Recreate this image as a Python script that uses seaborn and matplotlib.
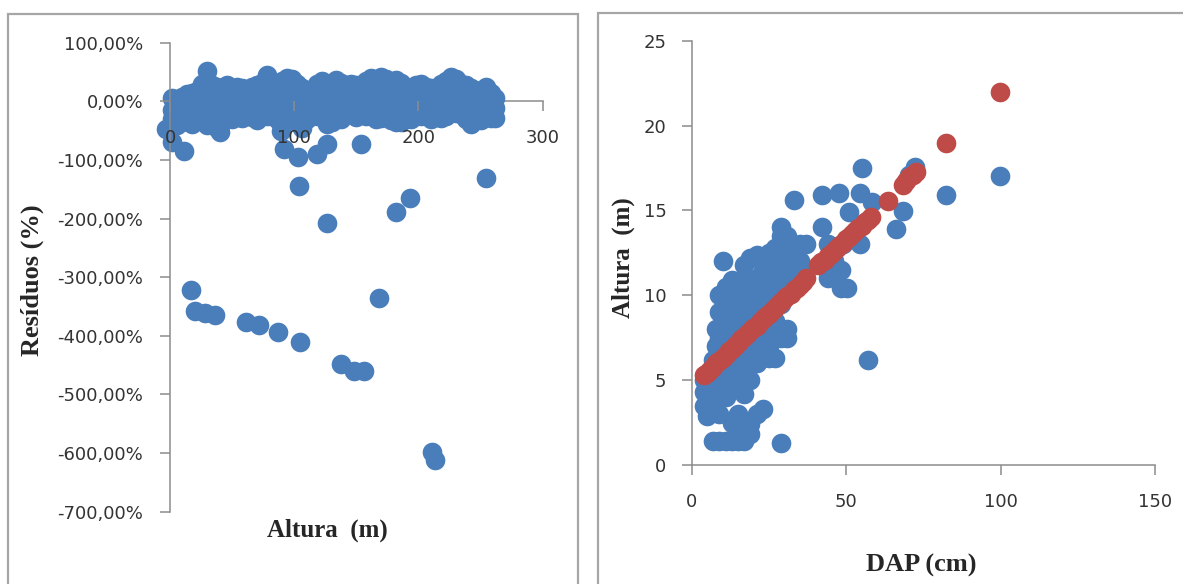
import matplotlib
matplotlib.use("Agg")
import numpy as np
import matplotlib.pyplot as plt
import seaborn as sns
from matplotlib.patches import Rectangle
from matplotlib.ticker import FuncFormatter, MultipleLocator

# ---- left panel: residuals (%) vs Altura (m) ----
band_x = [2, 6, 10, 14, 18, 22, 26, 30, 34, 38, 42, 46, 50, 54, 58, 62, 66, 70, 74, 78, 82, 86,
          90, 94, 98, 102, 106, 110, 114, 118, 122, 126, 130, 134, 138, 142, 146, 150, 154, 158,
          162, 166, 170, 174, 178, 182, 186, 190, 194, 198, 202, 206, 210, 214, 218, 222, 226,
          230, 234, 238, 242, 246, 250, 254, 258, 262]
band_upper = [5, -2, 8, 12, 15, 18, 30, 52, 28, 25, 22, 28, 20, 25, 22, 18, 24, 28, 32, 45, 30, 28,
              35, 40, 38, 30, 22, 15, 20, 30, 35, 28, 25, 36, 32, 25, 30, 28, 22, 35,
              40, 32, 42, 38, 30, 36, 32, 25, 20, 28, 30, 24, 22, 20, 30, 35, 42,
              38, 30, 28, 22, 18, 20, 25, 15, 5]
band_mid = [-15, -25, -5, 0, 5, -5, 8, 2, -8, 5, 10, -5, 0, 8, -3, 5, 0, -8, 10, 4, -4, 8,
            0, 12, -5, 5, -10, 0, 6, -4, 10, -6, 2, 8, -10, 4, 10, -2, 6, -5,
            8, 0, 12, -6, 5, -2, 10, 0, -8, 6, 10, -4, 4, -6, 8, 2, 12,
            5, -3, 8, 0, -5, 6, -8, 0, -12]
band_lower = [-30, -40, -35, -30, -38, -25, -32, -40, -28, -45, -35, -25, -30, -22, -29, -20, -26,
              -32, -18, -25, -22, -30, -42, -28, -20, -35, -45, -30, -18, -25, -20, -38, -35,
              -28, -30, -22, -18, -26, -15, -25, -22, -30, -28, -20, -32, -35, -36, -22, -30,
              -24, -25, -18, -30, -22, -28, -25, -15, -20, -22, -30, -39, -28, -32, -25, -29, -29]

out_x = [-3, 2, 11, 17, 20, 28, 36, 40, 61, 72, 87, 89, 92, 103, 104, 105, 118, 126, 126,
         138, 148, 156, 154, 168, 182, 193, 211, 213, 254]
out_y = [-47, -70, -84, -322, -357, -361, -365, -52, -376, -381, -394, -50, -81, -95, -145,
         -411, -89, -73, -207, -448, -460, -460, -73, -336, -189, -165, -598, -611, -131]

# ---- right panel: Altura (m) vs DAP (cm) ----
obs_dap = [4, 4, 4,
           5, 5,
           7, 7, 7, 7,
           8, 8,
           9, 9, 9, 9, 9, 9, 9,
           10, 10,
           11, 11, 11, 11, 11, 11, 11,
           13, 13, 13, 13, 13, 13, 13, 13,
           15, 15, 15, 15, 15, 15, 15,
           17, 17, 17, 17, 17, 17, 17, 17, 17,
           19, 19, 19, 19, 19, 19, 19, 19,
           21, 21, 21, 21, 21, 21, 21,
           23, 23, 23, 23, 23, 23, 23,
           25, 25, 25, 25, 25, 25,
           27, 27, 27, 27, 27, 27,
           29, 29, 29, 29, 29, 29, 29, 29,
           31, 31, 31, 31, 31,
           33, 33, 33, 33,
           35, 35, 35,
           37, 37,
           42.3, 42.3, 44, 44.2, 46, 47.8, 48.4, 48.4, 50.3, 49, 50.9, 52,
           54.6, 55, 54.6, 58.3, 57, 66, 68.4, 70.5, 72.4, 82.2, 99.7]
obs_alt = [3.5, 4.3, 5.0,
           2.9, 4.0,
           1.4, 3.8, 5.0, 6.2,
           7.0, 8.0,
           1.4, 3.0, 4.5, 6.0, 7.5, 9.0, 10.0,
           12.0, 8.5,
           1.4, 4.0, 5.5, 7.0, 8.0, 9.5, 10.5,
           1.4, 2.5, 4.5, 6.0, 7.5, 9.0, 10.0, 10.9,
           1.4, 3.0, 5.0, 6.5, 8.0, 9.5, 10.5,
           1.4, 2.0, 4.2, 5.5, 7.0, 9.0, 10.0, 11.0, 11.8,
           1.8, 2.4, 5.0, 6.5, 8.0, 9.5, 10.5, 12.2,
           3.0, 6.0, 7.5, 9.0, 10.0, 11.0, 12.4,
           3.3, 6.5, 7.5, 9.0, 10.5, 11.5, 12.0,
           6.3, 7.0, 8.5, 10.0, 11.0, 12.5,
           6.3, 7.5, 8.5, 10.0, 11.5, 12.8,
           1.3, 7.5, 8.0, 9.5, 11.0, 12.5, 13.5, 14.0,
           7.5, 8.0, 10.5, 12.0, 13.5,
           10.5, 11.5, 12.5, 15.6,
           11.0, 12.0, 13.0,
           13.0, 11.5,
           15.9, 14.0, 13.0, 11.0, 12.0, 16.0, 11.5, 10.45, 10.45, 13.0, 14.9, 13.5,
           16.0, 17.5, 13.0, 15.5, 6.2, 13.9, 14.95, 17.1, 17.56, 15.9, 17.0]

pred_dap = [4, 5, 6, 7, 8, 9, 10, 11, 12, 13, 14, 15, 16, 17, 18, 19, 20, 21, 22, 23, 24, 25,
            26, 27, 28, 29, 30, 31, 32, 33, 34, 35, 36, 37,
            41, 42, 43, 44, 45, 46, 47, 48, 49, 50, 51, 52, 53, 54, 55, 56, 57, 58,
            63.4, 68.4, 69.5, 70.5, 71.5, 72.6, 82.2, 99.7]
pred_alt = [5.3, 5.45, 5.6, 5.8, 6.0, 6.15, 6.3, 6.5, 6.7, 6.85, 7.0, 7.2, 7.4, 7.55, 7.7, 7.9,
            8.05, 8.2, 8.4, 8.6, 8.75, 8.9, 9.1, 9.25, 9.4, 9.6, 9.8, 9.95, 10.1, 10.3, 10.45,
            10.6, 10.8, 11.0,
            11.8, 11.95, 12.1, 12.3, 12.45, 12.6, 12.8, 12.95, 13.1, 13.3, 13.45, 13.6, 13.8,
            13.95, 14.1, 14.3, 14.45, 14.6,
            15.55, 16.5, 16.75, 16.95, 17.1, 17.25, 19.0, 21.95]

BLUE = "#4A7EBB"
RED = "#BE4B48"
AXIS_GRAY = "#8C8C8C"
TEXT = "#333333"
MS = 200

sns.set_style("white")
plt.rcParams["font.family"] = ["DejaVu Sans"]

fig = plt.figure(figsize=(11.83, 5.84), dpi=100)

# panel borders (Excel chart frames)
for x0, y0, w, h in [(8, -10, 570, 584 - 14 + 10), (598, -10, 600, 584 - 12.7 + 10)]:
    fig.add_artist(Rectangle((x0 / 1183, y0 / 584), w / 1183, h / 584, transform=fig.transFigure,
                             fill=False, edgecolor="#A6A6A6", linewidth=1.6, clip_on=False))

ax1 = fig.add_axes([170 / 1183, 1 - 511.7 / 584, 372.7 / 1183, 469 / 584])
ax2 = fig.add_axes([691.7 / 1183, 1 - 465 / 584, 463.3 / 1183, 424.3 / 584])

# left scatter
res_x = np.concatenate([band_x, band_x, band_x, out_x])
res_y = np.concatenate([band_upper, band_mid, band_lower, out_y])
sns.scatterplot(x=res_x, y=res_y, ax=ax1, color=BLUE, s=MS, linewidth=0, alpha=1, clip_on=False)

ax1.set_xlim(0, 300)
ax1.set_ylim(-700, 100)
ax1.xaxis.set_major_locator(MultipleLocator(100))
ax1.yaxis.set_major_locator(MultipleLocator(100))
ax1.yaxis.set_major_formatter(FuncFormatter(lambda v, p: f"{v:.2f}%".replace(".", ",")))
ax1.spines["bottom"].set_position(("data", 0))
ax1.tick_params(axis="x", pad=13)
ax1.tick_params(axis="y", pad=12)
ax1.set_xlabel("Altura  (m)", fontsize=18, fontweight="bold", family="Liberation Serif", va="center")
ax1.xaxis.set_label_coords(0.423, -0.039)
ax1.set_ylabel("Resíduos (%)", fontsize=19, fontweight="bold", family="Liberation Serif", va="center")
ax1.yaxis.set_label_coords(-0.370, 0.494)

# right scatter
sns.scatterplot(x=obs_dap, y=obs_alt, ax=ax2, color=BLUE, s=MS, linewidth=0, clip_on=False)
sns.scatterplot(x=pred_dap, y=pred_alt, ax=ax2, color=RED, s=MS, linewidth=0, clip_on=False)

ax2.set_xlim(0, 150)
ax2.set_ylim(0, 25)
ax2.xaxis.set_major_locator(MultipleLocator(50))
ax2.yaxis.set_major_locator(MultipleLocator(5))
ax2.tick_params(axis="x", pad=13)
ax2.tick_params(axis="y", pad=11)
ax2.set_xlabel("DAP (cm)", fontsize=19, fontweight="bold", family="Liberation Serif", va="center")
ax2.xaxis.set_label_coords(0.495, -0.236)
ax2.set_ylabel("Altura  (m)", fontsize=18, fontweight="bold", family="Liberation Serif", va="center")
ax2.yaxis.set_label_coords(-0.148, 0.488)

for ax in (ax1, ax2):
    ax.set_facecolor("none")
    ax.set_axisbelow(False)
    for side in ("top", "right"):
        ax.spines[side].set_visible(False)
    for side in ("left", "bottom"):
        ax.spines[side].set_color(AXIS_GRAY)
        ax.spines[side].set_linewidth(1.1)
    ax.tick_params(direction="out", length=7.2, width=1.1, color=AXIS_GRAY,
                   labelsize=13, labelcolor=TEXT, left=True, bottom=True)

# the x axis line of the residual plot sits under the markers
ax1.spines["bottom"].set_zorder(0.5)

fig.savefig("out.png", dpi=100)
